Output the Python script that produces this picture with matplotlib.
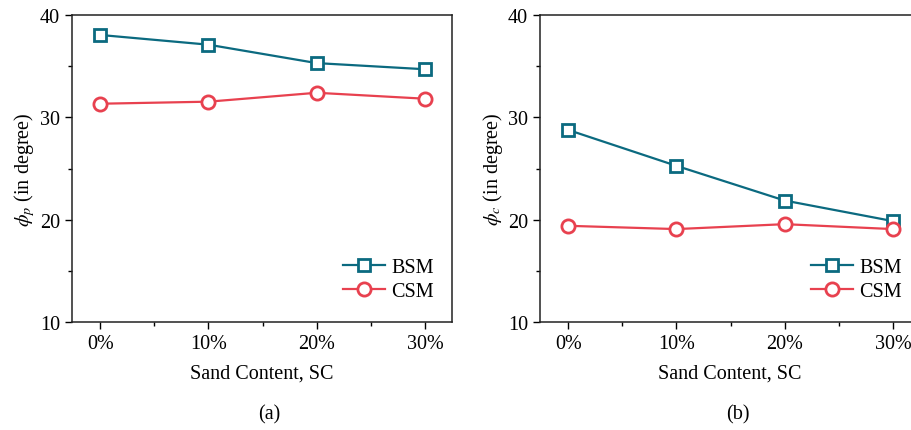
import numpy as np
import matplotlib
matplotlib.use("Agg")
import matplotlib.pyplot as plt
from matplotlib.ticker import MultipleLocator

plt.rcParams["font.family"] = ["Liberation Serif", "DejaVu Serif"]
plt.rcParams["mathtext.fontset"] = "stix"
plt.rcParams["font.size"] = 14

# data
sand = [0, 10, 20, 30]
sand_labels = ["0%", "10%", "20%", "30%"]
bsm_peak = [38.05, 37.1, 35.3, 34.7]
csm_peak = [31.33, 31.53, 32.4, 31.82]
bsm_cs = [28.77, 25.26, 21.87, 19.86]
csm_cs = [19.4, 19.08, 19.56, 19.08]

c_bsm = "#0b6a80"
c_csm = "#e8414f"

fig = plt.figure(figsize=(9.11, 4.31), dpi=100)
ax1 = fig.add_axes([72 / 911, 108 / 431, 380 / 911, 307 / 431])
ax2 = fig.add_axes([540 / 911, 108 / 431, 380 / 911, 307 / 431])

panels = [
    (ax1, bsm_peak, csm_peak, r"$\phi_p$ (in degree)", "(a)"),
    (ax2, bsm_cs, csm_cs, r"$\phi_c$ (in degree)", "(b)"),
]

for ax, bsm, csm, ylab, tag in panels:
    ax.plot(sand, bsm, color=c_bsm, lw=1.6, marker="s", ms=8, mfc="white",
            mec=c_bsm, mew=2.0, label="BSM")
    ax.plot(sand, csm, color=c_csm, lw=1.6, marker="o", ms=9.5, mfc="white",
            mec=c_csm, mew=2.0, label="CSM")
    ax.set_xlim(-2.6, 32.5)
    ax.set_ylim(10, 40)
    ax.set_xticks(sand)
    ax.set_xticklabels(sand_labels)
    ax.xaxis.set_minor_locator(MultipleLocator(5))
    ax.yaxis.set_major_locator(MultipleLocator(10))
    ax.yaxis.set_minor_locator(MultipleLocator(5))
    ax.tick_params(which="major", direction="out", length=5, width=1, labelsize=14.5)
    ax.tick_params(which="minor", direction="out", length=3, width=1)
    for s in ax.spines.values():
        s.set_linewidth(1.1)
        s.set_color("#222222")
    ax.set_xlabel("Sand Content, SC", fontsize=14.5, labelpad=8)
    ax.set_ylabel(ylab, fontsize=14.5, labelpad=2)
    ax.text(0.52, -0.3, tag, transform=ax.transAxes, ha="center", va="center", fontsize=14.5)
    ax.legend(loc="lower right", bbox_to_anchor=(1.0, 0.01), frameon=False,
              fontsize=14.5, handlelength=2.1, handletextpad=0.3, labelspacing=0.25)

fig.savefig("out.png", dpi=100)
